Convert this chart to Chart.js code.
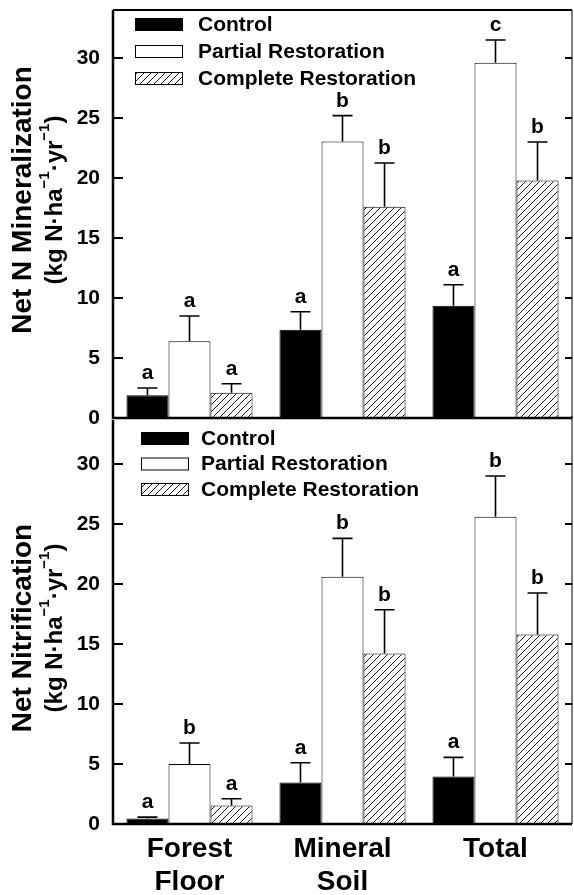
<!DOCTYPE html>
<html>
<head>
<meta charset="utf-8">
<script src="https://cdn.jsdelivr.net/npm/chart.js@4.4.0/dist/chart.umd.min.js"></script>
<style>
html, body { margin: 0; padding: 0; background: #fff; overflow: hidden; }
#wrap { position: relative; width: 574px; height: 895px; }
#top { position: absolute; left: 0; top: 0; width: 574px; height: 440px; }
#bot { position: absolute; left: 0; top: 412px; width: 574px; height: 483px; }
</style>
</head>
<body>
<div id="wrap">
  <div id="top"><canvas id="c1"></canvas></div>
  <div id="bot"><canvas id="c2"></canvas></div>
</div>
<script>
// data
const categories = [['Forest', 'Floor'], ['Mineral', 'Soil'], 'Total'];
const seriesNames = ['Control', 'Partial Restoration', 'Complete Restoration'];
const yTicks = [0, 5, 10, 15, 20, 25, 30];

const minCtrl = [1.9, 7.35, 9.35];
const minCtrlErr = [0.6, 1.5, 1.75];
const minCtrlSig = ['a', 'a', 'a'];
const minPart = [6.4, 23.05, 29.6];
const minPartErr = [2.1, 2.15, 1.9];
const minPartSig = ['a', 'b', 'c'];
const minComp = [2.1, 17.6, 19.8];
const minCompErr = [0.75, 3.65, 3.2];
const minCompSig = ['a', 'b', 'b'];

const nitCtrl = [0.45, 3.45, 3.95];
const nitCtrlErr = [0.12, 1.65, 1.6];
const nitCtrlSig = ['a', 'a', 'a'];
const nitPart = [5.0, 20.6, 25.6];
const nitPartErr = [1.75, 3.2, 3.4];
const nitPartSig = ['b', 'b', 'b'];
const nitComp = [1.55, 14.2, 15.8];
const nitCompErr = [0.55, 3.65, 3.45];
const nitCompSig = ['a', 'b', 'b'];

const FONT = '"Liberation Sans", Arial, Helvetica, sans-serif';
Chart.defaults.font.family = FONT;
Chart.defaults.color = '#000';

function hatch() {
    let c = document.createElement('canvas');
    c.width = 7;
    c.height = 7;
    let x = c.getContext('2d');
    x.fillStyle = '#fff';
    x.fillRect(0, 0, 7, 7);
    x.strokeStyle = '#000';
    x.lineWidth = 0.9;
    x.beginPath();
    x.moveTo(-1, 8); x.lineTo(8, -1);
    x.moveTo(-1, 1); x.lineTo(1, -1);
    x.moveTo(6, 8); x.lineTo(8, 6);
    x.stroke();
    return x.createPattern(c, 'repeat');
}

const fills = ['#000', '#fff', hatch()];

function drawUnits(ctx, cx, cy, size) {
    let parts = [['(kg N·ha', 0], ['−1', 1], ['·yr', 0], ['−1', 1], [')', 0]];
    let big = 'bold ' + size + 'px ' + FONT;
    let small = 'bold ' + Math.round(size * 0.62) + 'px ' + FONT;
    let total = 0;
    parts.forEach(function(p) {
        ctx.font = p[1] ? small : big;
        total += ctx.measureText(p[0]).width;
    });
    let x = cx - total / 2;
    ctx.textAlign = 'left';
    parts.forEach(function(p) {
        ctx.font = p[1] ? small : big;
        ctx.fillText(p[0], x, p[1] ? cy - size * 0.42 : cy);
        x += ctx.measureText(p[0]).width;
    });
}

// frame, inward ticks, error bars, letters, legend and axis title
const panel = {
    id: 'panel',
    afterDatasetsDraw(chart, args, opts) {
        let ctx = chart.ctx;
        let a = chart.chartArea;
        let ys = chart.scales.y;
        ctx.save();
        ctx.strokeStyle = '#000';
        ctx.fillStyle = '#000';

        // error bars + letters
        chart.data.datasets.forEach(function(ds, i) {
            let meta = chart.getDatasetMeta(i);
            meta.data.forEach(function(bar, j) {
                let top = ys.getPixelForValue(ds.data[j] + ds.errors[j]);
                ctx.lineWidth = 1.6;
                ctx.beginPath();
                ctx.moveTo(bar.x, bar.y);
                ctx.lineTo(bar.x, top);
                ctx.moveTo(bar.x - 10, top);
                ctx.lineTo(bar.x + 10, top);
                ctx.stroke();
                ctx.font = 'bold 21px ' + FONT;
                ctx.textAlign = 'center';
                ctx.textBaseline = 'alphabetic';
                ctx.fillText(ds.letters[j], bar.x, top - 9);
            });
        });

        // frame
        ctx.lineWidth = 2.5;
        ctx.beginPath();
        ctx.moveTo(a.left, opts.topLine ? a.top : a.top + 4);
        ctx.lineTo(a.left, a.bottom);
        ctx.lineTo(a.right, a.bottom);
        ctx.stroke();
        if (opts.topLine) {
            ctx.lineWidth = 2;
            ctx.beginPath();
            ctx.moveTo(a.left, a.top);
            ctx.lineTo(a.right, a.top);
            ctx.stroke();
        }
        ctx.lineWidth = 1;
        ctx.beginPath();
        ctx.moveTo(a.right, a.top);
        ctx.lineTo(a.right, a.bottom);
        ctx.stroke();

        // inward ticks on both sides
        ctx.lineWidth = 2;
        ys.ticks.forEach(function(t) {
            let y = ys.getPixelForValue(t.value);
            ctx.beginPath();
            ctx.moveTo(a.left, y);
            ctx.lineTo(a.left + 10, y);
            ctx.moveTo(a.right - 7, y);
            ctx.lineTo(a.right, y);
            ctx.stroke();
        });

        // legend
        ctx.font = 'bold 21px ' + FONT;
        ctx.textAlign = 'left';
        ctx.textBaseline = 'middle';
        chart.data.datasets.forEach(function(ds, i) {
            let bx = a.left + opts.legX;
            let by = a.top + opts.legY + i * opts.legGap;
            ctx.fillStyle = ds.backgroundColor;
            ctx.fillRect(bx, by, 48, 13);
            ctx.lineWidth = 1;
            ctx.strokeRect(bx + 0.5, by + 0.5, 47, 12);
            ctx.fillStyle = '#000';
            ctx.fillText(ds.label, bx + 48 + opts.legText, by + 7);
        });

        // y axis title
        let cy = (a.top + a.bottom) / 2 + opts.titleShift;
        ctx.translate(0, cy);
        ctx.rotate(-Math.PI / 2);
        ctx.textBaseline = 'middle';
        ctx.textAlign = 'center';
        ctx.font = 'bold 28px ' + FONT;
        ctx.fillText(opts.title, 0, 23);
        drawUnits(ctx, 0, 55, 24);
        ctx.restore();
    }
};

function makeChart(id, vals, errs, sigs, opts) {
    let datasets = seriesNames.map(function(name, i) {
        return {
            label: name,
            data: vals[i],
            errors: errs[i],
            letters: sigs[i],
            backgroundColor: fills[i],
            borderColor: '#000',
            borderWidth: 1,
            categoryPercentage: 0.824,
            barPercentage: 1
        };
    });
    return new Chart(document.getElementById(id), {
        type: 'bar',
        data: { labels: categories, datasets: datasets },
        options: {
            responsive: true,
            maintainAspectRatio: false,
            animation: false,
            layout: { padding: { top: opts.padTop, bottom: opts.padBottom, left: 0, right: 2 } },
            plugins: {
                legend: { display: false },
                tooltip: { enabled: false },
                panel: opts
            },
            scales: {
                x: {
                    display: opts.showX,
                    grid: { display: false, drawTicks: false },
                    border: { display: false },
                    ticks: {
                        padding: 9,
                        font: { size: 28, weight: 'bold', lineHeight: '33px' }
                    },
                    afterFit: function(s) {
                        if (opts.showX) s.height = 71;
                        s.paddingLeft = 0;
                        s.paddingRight = 0;
                    }
                },
                y: {
                    min: 0,
                    max: 34,
                    grid: { display: false, drawTicks: false },
                    border: { display: false },
                    afterBuildTicks: function(s) {
                        s.ticks = yTicks.map(function(v) { return { value: v }; });
                    },
                    ticks: {
                        padding: 13,
                        font: { size: 21, weight: 'bold' }
                    },
                    afterFit: function(s) {
                        s.width = 113;
                        s.paddingTop = 0;
                        s.paddingBottom = 0;
                    }
                }
            }
        },
        plugins: [panel]
    });
}

makeChart('c1',
    [minCtrl, minPart, minComp],
    [minCtrlErr, minPartErr, minCompErr],
    [minCtrlSig, minPartSig, minCompSig],
    { padTop: 10, padBottom: 22, showX: false, topLine: true,
      legX: 22, legY: 8, legGap: 27, legText: 15,
      title: 'Net N Mineralization', titleShift: -14 });

makeChart('c2',
    [nitCtrl, nitPart, nitComp],
    [nitCtrlErr, nitPartErr, nitCompErr],
    [nitCtrlSig, nitPartSig, nitCompSig],
    { padTop: 4, padBottom: 0, showX: true, topLine: false,
      legX: 28, legY: 16, legGap: 25.5, legText: 12,
      title: 'Net Nitrification', titleShift: 8 });
</script>
</body>
</html>
